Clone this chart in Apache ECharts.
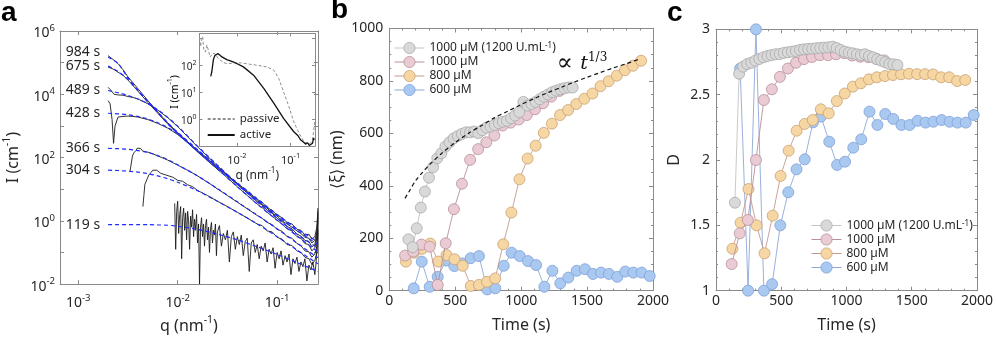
<!DOCTYPE html>
<html lang="en">
<head>
<meta charset="UTF-8">
<title>SAXS growth</title>
<script src="https://cdn.jsdelivr.net/npm/echarts@6/dist/echarts.min.js"></script>
<style>
    *{margin:0;padding:0;}
    html,body{width:100%;height:100%;overflow:hidden;background:#fff;}
    #chart{width:996px;height:339px;}
</style>
</head>
<body>
<div id="chart"></div>
<script>
// ---------- panel a : scattering curves, stored as log10 values ----------
const scanNames = ['984 s', '675 s', '489 s', '428 s', '366 s', '304 s', '119 s'];
const fitLogQ = [-2.7, -2.6, -2.5, -2.4, -2.3, -2.2, -2.1, -2.0, -1.8, -1.6, -1.4, -1.2, -1.0, -0.8, -0.59];
const fit984 = [5.18, 4.97, 4.52, 4.12, 3.78, 3.44, 3.1, 2.8, 2.25, 1.72, 1.2, 0.7, 0.2, -0.25, -0.66];
const fit675 = [4.89, 4.72, 4.47, 4.12, 3.77, 3.42, 3.07, 2.76, 2.21, 1.68, 1.16, 0.66, 0.16, -0.3, -0.75];
const fit489 = [4.12, 4.05, 3.96, 3.85, 3.71, 3.51, 3.27, 2.99, 2.36, 1.76, 1.16, 0.6, 0.08, -0.42, -0.86];
const fit428 = [3.40, 3.38, 3.35, 3.30, 3.22, 3.1, 2.95, 2.75, 2.2, 1.64, 1.08, 0.53, 0.02, -0.48, -0.98];
const fit366 = [2.29, 2.28, 2.26, 2.22, 2.16, 2.06, 1.93, 1.77, 1.42, 1.02, 0.6, 0.18, -0.25, -0.7, -1.17];
const fit304 = [1.60, 1.59, 1.57, 1.54, 1.49, 1.42, 1.33, 1.22, 0.95, 0.62, 0.27, -0.1, -0.5, -0.92, -1.36];
const fit119 = [-0.12, -0.12, -0.12, -0.12, -0.12, -0.13, -0.14, -0.17, -0.27, -0.42, -0.6, -0.82, -1.06, -1.32, -1.6];

// measured curves: [log10 q, log10 I]
const d984 = [[-2.7,5.22],[-2.65,5.1],[-2.6,4.97],[-2.55,4.78],[-2.5,4.55],[-2.4,4.18],[-2.3,3.8],[-2.2,3.44],[-2.1,3.1],[-2.0,2.79],[-1.9,2.5],[-1.8,2.23],[-1.7,1.97],[-1.6,1.7],[-1.5,1.44],[-1.4,1.19],[-1.3,0.94],[-1.2,0.68],[-1.15,0.58],[-1.1,0.42],[-1.05,0.33],[-1.0,0.18],[-0.95,0.1],[-0.9,-0.05],[-0.85,-0.1],[-0.8,-0.27],[-0.76,-0.3],[-0.72,-0.45],[-0.68,-0.42],[-0.65,-0.58],[-0.62,-0.5],[-0.6,-0.2],[-0.59,0.3]];
const d675 = [[-2.7,4.86],[-2.65,4.8],[-2.6,4.7],[-2.55,4.6],[-2.5,4.45],[-2.4,4.1],[-2.3,3.74],[-2.2,3.4],[-2.1,3.06],[-2.0,2.76],[-1.9,2.48],[-1.8,2.2],[-1.7,1.94],[-1.6,1.67],[-1.5,1.41],[-1.4,1.15],[-1.3,0.9],[-1.2,0.64],[-1.15,0.52],[-1.1,0.4],[-1.05,0.25],[-1.0,0.15],[-0.95,0.0],[-0.9,-0.1],[-0.85,-0.2],[-0.8,-0.32],[-0.76,-0.4],[-0.72,-0.52],[-0.68,-0.55],[-0.65,-0.7],[-0.62,-0.62],[-0.6,-0.35],[-0.59,0.2]];
const d489 = [[-2.7,4.22],[-2.67,4.12],[-2.64,4.0],[-2.6,3.98],[-2.55,3.97],[-2.5,3.93],[-2.45,3.9],[-2.4,3.85],[-2.3,3.7],[-2.2,3.5],[-2.1,3.26],[-2.0,2.98],[-1.9,2.66],[-1.8,2.34],[-1.7,2.04],[-1.6,1.74],[-1.5,1.45],[-1.4,1.16],[-1.3,0.88],[-1.2,0.6],[-1.15,0.5],[-1.1,0.34],[-1.05,0.24],[-1.0,0.08],[-0.95,-0.02],[-0.9,-0.18],[-0.85,-0.25],[-0.8,-0.42],[-0.76,-0.48],[-0.72,-0.62],[-0.68,-0.65],[-0.65,-0.82],[-0.62,-0.75],[-0.6,-0.45],[-0.59,0.1]];
const d428 = [[-2.7,3.8],[-2.68,3.7],[-2.66,3.2],[-2.645,2.45],[-2.63,3.0],[-2.6,3.28],[-2.55,3.3],[-2.5,3.31],[-2.45,3.3],[-2.4,3.28],[-2.3,3.2],[-2.2,3.08],[-2.1,2.93],[-2.0,2.73],[-1.9,2.47],[-1.8,2.18],[-1.7,1.9],[-1.6,1.63],[-1.5,1.36],[-1.4,1.08],[-1.3,0.8],[-1.2,0.53],[-1.15,0.42],[-1.1,0.27],[-1.05,0.15],[-1.0,0.02],[-0.95,-0.1],[-0.9,-0.25],[-0.85,-0.32],[-0.8,-0.5],[-0.76,-0.55],[-0.72,-0.72],[-0.68,-0.75],[-0.65,-0.95],[-0.62,-0.85],[-0.6,-0.55],[-0.59,0.0]];
const d366 = [[-2.48,1.55],[-2.47,1.6],[-2.455,2.05],[-2.44,2.15],[-2.42,2.22],[-2.405,2.3],[-2.39,2.25],[-2.37,2.28],[-2.35,2.2],[-2.33,2.24],[-2.3,2.17],[-2.25,2.12],[-2.2,2.05],[-2.15,1.99],[-2.1,1.92],[-2.0,1.76],[-1.9,1.6],[-1.8,1.42],[-1.7,1.22],[-1.6,1.01],[-1.5,0.8],[-1.4,0.59],[-1.3,0.38],[-1.2,0.17],[-1.15,0.08],[-1.1,-0.05],[-1.05,-0.12],[-1.0,-0.27],[-0.95,-0.33],[-0.9,-0.5],[-0.85,-0.55],[-0.8,-0.72],[-0.76,-0.78],[-0.72,-0.95],[-0.68,-0.98],[-0.65,-1.15],[-0.62,-1.05],[-0.6,-0.8],[-0.59,-0.3]];
const d304 = [[-2.35,0.45],[-2.34,0.8],[-2.33,1.15],[-2.32,1.2],[-2.31,1.3],[-2.29,1.45],[-2.27,1.52],[-2.25,1.6],[-2.23,1.66],[-2.21,1.6],[-2.19,1.55],[-2.17,1.5],[-2.15,1.52],[-2.12,1.45],[-2.1,1.43],[-2.05,1.38],[-2.0,1.28],[-1.95,1.25],[-1.9,1.14],[-1.85,1.08],[-1.8,0.96],[-1.7,0.8],[-1.6,0.62],[-1.5,0.45],[-1.4,0.27],[-1.3,0.09],[-1.2,-0.1],[-1.15,-0.15],[-1.1,-0.32],[-1.05,-0.35],[-1.0,-0.52],[-0.95,-0.58],[-0.9,-0.75],[-0.85,-0.78],[-0.8,-0.95],[-0.76,-1.0],[-0.72,-1.15],[-0.68,-1.2],[-0.65,-1.38],[-0.62,-1.25],[-0.6,-1.0],[-0.59,-0.4]];
const d119 = [[-2.03,0.55],[-2.02,-0.9],[-2.01,0.3],[-2.0,0.62],[-1.99,-0.4],[-1.98,0.2],[-1.97,0.45],[-1.96,-1.2],[-1.95,0.1],[-1.94,0.4],[-1.93,-0.3],[-1.92,0.25],[-1.91,-0.6],[-1.9,0.3],[-1.89,0.0],[-1.88,-0.9],[-1.87,0.15],[-1.86,-0.2],[-1.85,0.35],[-1.84,-0.5],[-1.83,0.05],[-1.82,-0.3],[-1.81,0.2],[-1.8,-0.7],[-1.79,-0.1],[-1.78,-2.0],[-1.77,-0.2],[-1.76,0.1],[-1.75,-0.5],[-1.74,-0.1],[-1.73,-0.8],[-1.72,-0.15],[-1.71,0.05],[-1.7,-0.6],[-1.69,-0.2],[-1.68,-1.0],[-1.67,-0.25],[-1.66,-0.05],[-1.65,-0.7],[-1.64,-0.3],[-1.63,-0.45],[-1.62,-0.1],[-1.61,-1.1],[-1.6,-0.35],[-1.58,-0.15],[-1.56,-0.8],[-1.54,-0.4],[-1.52,-0.6],[-1.5,-0.3],[-1.48,-1.3],[-1.46,-0.5],[-1.44,-0.35],[-1.42,-0.9],[-1.4,-0.5],[-1.38,-0.75],[-1.36,-0.45],[-1.34,-1.1],[-1.32,-0.65],[-1.3,-0.55],[-1.28,-1.6],[-1.26,-0.7],[-1.24,-0.6],[-1.22,-1.0],[-1.2,-0.75],[-1.18,-1.2],[-1.16,-0.8],[-1.14,-0.95],[-1.12,-0.7],[-1.1,-1.3],[-1.08,-0.9],[-1.06,-1.05],[-1.04,-0.85],[-1.02,-1.5],[-1.0,-1.0],[-0.98,-1.2],[-0.96,-0.95],[-0.94,-1.4],[-0.92,-1.1],[-0.9,-1.3],[-0.88,-1.05],[-0.86,-1.7],[-0.84,-1.2],[-0.82,-1.35],[-0.8,-1.15],[-0.78,-1.6],[-0.76,-1.3],[-0.74,-1.45],[-0.72,-1.2],[-0.7,-1.9],[-0.68,-1.4],[-0.66,-1.55],[-0.64,-1.3],[-0.62,-1.7],[-0.61,-1.4],[-0.6,-1.0],[-0.595,-0.6],[-0.59,0.4]];

// inset: passive vs active
const passive = [[-2.7,3.05],[-2.68,2.7],[-2.66,2.95],[-2.64,3.07],[-2.62,2.6],[-2.59,2.49],[-2.56,2.75],[-2.53,2.68],[-2.5,2.31],[-2.45,2.45],[-2.41,2.43],[-2.35,2.25],[-2.31,2.19],[-2.25,2.1],[-2.19,2.06],[-2.05,2.08],[-1.94,2.09],[-1.8,2.05],[-1.62,2.0],[-1.44,1.94],[-1.31,1.81],[-1.22,1.51],[-1.13,1.01],[-1.03,0.46],[-0.94,-0.1],[-0.84,-0.53],[-0.75,-0.84],[-0.66,-0.93],[-0.62,-0.88],[-0.59,-0.78],[-0.56,-0.3],[-0.55,-0.04]];
const active = [[-2.49,1.59],[-2.47,1.75],[-2.44,2.21],[-2.41,2.37],[-2.38,2.3],[-2.35,2.43],[-2.28,2.31],[-2.19,2.21],[-2.06,2.12],[-1.88,1.94],[-1.69,1.63],[-1.5,1.14],[-1.31,0.58],[-1.13,0.03],[-0.94,-0.47],[-0.86,-0.62],[-0.81,-0.78],[-0.76,-0.85],[-0.72,-0.93],[-0.68,-0.88],[-0.65,-0.98],[-0.62,-0.96],[-0.59,-0.9],[-0.57,-0.7],[-0.56,-0.78]];

// ---------- panels b and c ----------
const tGray = [145,177,208,239,270,301,332,364,395,426,457,488,519,550,581,612,644,675,706,737,768,799,830,861,893,924,955,986,1017,1048,1079,1110,1141,1172,1203,1235,1266,1297,1328,1359,1390];
const xiGray = [196,166,238,317,378,431,471,505,524,550,566,581,590,598,604,604,607,601,612,622,626,632,639,644,648,658,668,681,720,706,712,720,730,740,748,757,763,768,772,775,775];
const dGray = [1.673,2.66,2.714,2.734,2.744,2.76,2.773,2.786,2.796,2.803,2.809,2.811,2.819,2.824,2.829,2.834,2.842,2.847,2.85,2.852,2.855,2.857,2.86,2.862,2.867,2.857,2.842,2.829,2.821,2.816,2.809,2.803,2.809,2.796,2.786,2.771,2.76,2.748,2.734,2.732,2.727];

const tPink = [120,182,244,306,367,428,490,551,613,674,736,797,859,920,982,1043,1105,1166,1228,1290];
const xiPink = [134,149,176,168,22,181,311,408,499,540,566,592,630,641,653,670,692,715,740,762];
const dPink = [1.204,1.439,1.541,2.0,2.459,2.541,2.636,2.70,2.744,2.772,2.788,2.802,2.802,2.809,2.818,2.799,2.79,2.787,2.774,2.762];

const tOrange = [126,188,249,311,372,434,495,557,618,680,741,803,864,926,987,1049,1110,1172,1233,1295,1356,1418,1479,1541,1602,1664,1725,1787,1848,1910];
const xiOrange = [111,145,160,180,111,136,120,95,18,22,34,47,177,298,425,504,553,602,637,670,689,712,732,752,780,799,820,841,858,877];
const dOrange = [1.321,1.52,1.778,1.5,1.286,1.574,1.878,2.071,2.224,2.276,2.306,2.388,2.357,2.451,2.509,2.561,2.587,2.617,2.633,2.642,2.65,2.656,2.66,2.657,2.657,2.655,2.633,2.633,2.604,2.612];

const tBlue = [185,246,306,367,430,493,554,617,680,743,804,868,928,989,1052,1113,1176,1237,1297,1358,1421,1484,1545,1606,1666,1729,1790,1851,1914,1975];
const xiBlue = [9,111,15,53,115,94,104,124,132,5,9,95,145,132,113,98,15,76,28,50,76,82,64,69,64,53,73,69,69,56];
const dBlue = [2.70,1.0,3.0,1.0,1.05,1.5,1.753,1.929,2.005,2.288,2.332,2.14,1.962,1.987,2.094,2.158,2.37,2.268,2.352,2.314,2.268,2.268,2.30,2.286,2.293,2.306,2.293,2.286,2.286,2.344];

const tFit = [119,150,200,250,300,400,500,600,700,800,900,1000,1100,1200,1300,1400,1500,1600,1700,1800,1900];
const xiFit = [352,378,420,450,478,525,565,600,630,660,685,710,733,755,775,795,814,832,850,866,884];

const seriesNames = ['1000 µM (1200 U.mL-1)', '1000 µM', '800 µM', '600 µM'];

// ---------- styling ----------
const FONT = 'Noto Sans';
const INK = '#262626';
const FRAME = '#8a8a8a';
const pow10 = v => Math.pow(10, v);
const toPts = arr => arr.map(p => [pow10(p[0]), pow10(p[1])]);

function supRich(big, small) {
    return {
        b: {fontFamily: FONT, fontSize: big, lineHeight: big + 6, color: INK},
        t: {fontFamily: FONT, fontSize: big, lineHeight: big + 6, color: INK},
        s: {fontFamily: FONT, fontSize: small, lineHeight: small + 1, verticalAlign: 'top', color: INK}
    };
}
function decadeLabel(test) {
    return v => {
        const e = Math.log10(v), r = Math.round(e);
        if (Math.abs(e - r) > 1e-6 || !test(r)) return '';
        return '{b|10}{s|' + r + '}';
    };
}
function frame(gridIndex, position, extra) {
    return Object.assign({
        gridIndex: gridIndex,
        position: position,
        axisLine: {show: true, onZero: false, lineStyle: {color: FRAME, width: 1}},
        axisTick: {show: true, inside: true, length: 4, lineStyle: {color: FRAME}},
        splitLine: {show: false},
        axisLabel: {show: false}
    }, extra);
}
const numLabel = (margin) => ({show: true, color: INK, fontFamily: FONT, fontSize: 14, margin: margin,
    formatter: v => String(v)});
const nameStyle = {color: INK, fontFamily: FONT, fontSize: 16};

// panel a axes
const qMin = 6.55e-4, qMax = 0.258;
const qInMin = 0.002, qInMax = 0.286;
const aX = {type: 'log', min: qMin, max: qMax};
const aY = {type: 'log', min: 0.01, max: 1e6};
const inX = {type: 'log', min: qInMin, max: qInMax};
// inset intensity axis works on the stored decades directly
const inY = {type: 'value', min: -1, max: 3.18, interval: 1};
const tX = {type: 'value', min: 0, max: 2000, interval: 500,
    minorTick: {show: true, splitNumber: 5, length: 2, lineStyle: {color: FRAME}}};
const smallTick = {show: true, inside: true, length: 3, lineStyle: {color: FRAME}};

const xAxes = [
    frame(0, 'bottom', Object.assign({}, aX, {
        axisLabel: {show: true, interval: 0, margin: 9, formatter: decadeLabel(() => true), rich: supRich(14, 9.5)},
        name: '{t|q (nm}{s|-1}{t|)}', nameLocation: 'middle', nameGap: 30,
        nameTextStyle: {rich: supRich(16, 10.5)}
    })),
    frame(0, 'top', aX),
    frame(1, 'bottom', Object.assign({}, inX, {
        axisTick: smallTick,
        axisLabel: {show: true, interval: 0, margin: 6, formatter: decadeLabel(() => true), rich: supRich(11, 7.5)},
        name: '{t|q (nm}{s|-1}{t|)}', nameLocation: 'middle', nameGap: 20,
        nameTextStyle: {rich: supRich(12, 8)}
    })),
    frame(1, 'top', Object.assign({}, inX, {axisTick: smallTick})),
    frame(2, 'bottom', Object.assign({}, tX, {
        axisLabel: numLabel(3), name: 'Time (s)', nameLocation: 'middle', nameGap: 27, nameTextStyle: nameStyle
    })),
    frame(2, 'top', tX),
    frame(3, 'bottom', Object.assign({}, tX, {
        axisLabel: numLabel(3), name: 'Time (s)', nameLocation: 'middle', nameGap: 27, nameTextStyle: nameStyle
    })),
    frame(3, 'top', tX)
];

const xiY = {type: 'value', min: 0, max: 1000, interval: 200,
    minorTick: {show: true, splitNumber: 4, length: 2, lineStyle: {color: FRAME}}};
const dY = {type: 'value', min: 1, max: 3, interval: 0.5,
    minorTick: {show: true, splitNumber: 5, length: 2, lineStyle: {color: FRAME}}};

const yAxes = [
    frame(0, 'left', Object.assign({}, aY, {
        axisLabel: {show: true, interval: 0, margin: 5, padding: [5, 0, 0, 0], formatter: decadeLabel(r => r % 2 === 0), rich: supRich(14, 9.5)},
        name: '{t|I (cm}{s|-1}{t|)}', nameLocation: 'middle', nameGap: 36, nameRotate: 90,
        nameTextStyle: {rich: supRich(16, 10.5)}
    })),
    frame(0, 'right', aY),
    frame(1, 'left', Object.assign({}, inY, {
        axisTick: smallTick,
        axisLabel: {show: true, interval: 0, hideOverlap: false, margin: 3, padding: [4, 0, 0, 0],
            formatter: v => (Number.isInteger(v) && v >= 0 && v <= 2) ? '{b|10}{s|' + v + '}' : '',
            rich: supRich(10, 7)}
    })),
    frame(1, 'right', Object.assign({}, inY, {axisTick: smallTick})),
    frame(2, 'left', Object.assign({}, xiY, {
        axisLabel: numLabel(6), name: '⟨ξ⟩ (nm)', nameLocation: 'middle', nameGap: 44, nameRotate: 90, nameTextStyle: nameStyle
    })),
    frame(2, 'right', xiY),
    frame(3, 'left', Object.assign({}, dY, {
        axisLabel: numLabel(6), name: 'D', nameLocation: 'middle', nameGap: 34, nameRotate: 90, nameTextStyle: nameStyle
    })),
    frame(3, 'right', dY)
];

// ---------- series ----------
const series = [];
const fits = [fit984, fit675, fit489, fit428, fit366, fit304, fit119];
const scans = [d984, d675, d489, d428, d366, d304, d119];

scans.forEach((d, i) => {
    series.push({
        name: 'scan ' + scanNames[i], type: 'line', xAxisIndex: 0, yAxisIndex: 0,
        data: toPts(d), showSymbol: false, symbol: 'none',
        lineStyle: {color: '#1c1c1c', width: 0.9}, z: 2
    });
});
fits.forEach((f, i) => {
    const data = fitLogQ.map((e, k) => [pow10(e), pow10(f[k])]);
    data[0] = {
        value: data[0],
        label: {show: true, position: 'left', distance: 8, offset: [0, i === 0 ? -5 : 0],
            formatter: scanNames[i], color: INK, fontFamily: FONT, fontSize: 14}
    };
    series.push({
        name: 'fit ' + scanNames[i], type: 'line', xAxisIndex: 0, yAxisIndex: 0,
        data: data, smooth: 0.3, symbol: 'circle', symbolSize: 0, showSymbol: true,
        label: {show: false},
        lineStyle: {color: '#1f2bff', width: 1.2, type: [4, 3]}, z: 3
    });
});

const insetPts = arr => arr.map(p => [pow10(p[0]), p[1]]);
series.push({
    name: 'passive', type: 'line', xAxisIndex: 2, yAxisIndex: 2, data: insetPts(passive),
    symbol: 'circle', symbolSize: 0, lineStyle: {color: '#8f8f8f', width: 1, type: [3, 2]}, z: 3
});
series.push({
    name: 'active', type: 'line', xAxisIndex: 2, yAxisIndex: 2, data: insetPts(active),
    symbol: 'circle', symbolSize: 0, lineStyle: {color: '#111', width: 1.3}, z: 4
});

const look = [
    {fill: '#d9d9d9', edge: '#a9a9a9', line: '#c4c4c4'},
    {fill: '#eacbd3', edge: '#b8909b', line: '#b8909b'},
    {fill: '#f6d6a2', edge: '#c9a273', line: '#c59a8f'},
    {fill: '#aac9f1', edge: '#7e9fd8', line: '#8ea7d8'}
];
const tSets = [tGray, tPink, tOrange, tBlue];
const xiSets = [xiGray, xiPink, xiOrange, xiBlue];
const dSets = [dGray, dPink, dOrange, dBlue];

// draw blue first so grey ends on top
[3, 2, 1, 0].forEach(k => {
    const style = {
        type: 'line', name: seriesNames[k], symbol: 'circle', symbolSize: 11,
        itemStyle: {color: look[k].fill, borderColor: look[k].edge, borderWidth: 0.8},
        lineStyle: {color: look[k].line, width: 0.9}, z: 3 + (3 - k)
    };
    series.push(Object.assign({}, style, {
        xAxisIndex: 4, yAxisIndex: 4, data: tSets[k].map((t, i) => [t, xiSets[k][i]])
    }));
    series.push(Object.assign({}, style, {
        xAxisIndex: 6, yAxisIndex: 6, data: tSets[k].map((t, i) => [t, dSets[k][i]])
    }));
});

const fitData = tFit.map((t, i) => [t, xiFit[i]]);
const lab = tFit.indexOf(1400);
fitData[lab] = {
    value: fitData[lab],
    label: {
        show: true, position: 'top', distance: 6, offset: [8, 0],
        formatter: '{p|∝ }{t|t}{s|1/3}',
        rich: {
            p: {fontFamily: 'DejaVu Serif', fontSize: 24, lineHeight: 24, color: '#111'},
            t: {fontFamily: 'DejaVu Serif', fontStyle: 'italic', fontSize: 19, lineHeight: 24, color: '#111'},
            s: {fontFamily: 'DejaVu Serif', fontSize: 12, lineHeight: 13, verticalAlign: 'top', color: '#111'}
        }
    }
};
series.push({
    name: 'power law', type: 'line', xAxisIndex: 4, yAxisIndex: 4, data: fitData,
    smooth: 0.3, symbol: 'circle', symbolSize: 0, showSymbol: true, label: {show: false},
    lineStyle: {color: '#111', width: 1.2, type: [4, 3]}, z: 10
});

const legendText = {
    color: INK, fontFamily: FONT, fontSize: 12,
    rich: {t: {fontFamily: FONT, fontSize: 12, color: INK}, s: {fontFamily: FONT, fontSize: 8, lineHeight: 9, verticalAlign: 'top', color: INK}}
};
const legendFmt = n => n.indexOf('U.mL') > 0 ? '{t|1000 µM (1200 U.mL}{s|-1}{t|)}' : '{t|' + n + '}';
const legendItem = {borderWidth: 0.8};

const option = {
    animation: false,
    backgroundColor: '#fff',
    grid: [
        {left: 60, top: 31, width: 258, height: 258},
        {left: 199.5, top: 33.5, width: 115.5, height: 112.5},
        {left: 389.3, top: 28.5, width: 263.7, height: 262.2},
        {left: 716, top: 29.3, width: 264, height: 261.4}
    ],
    xAxis: xAxes,
    yAxis: yAxes,
    legend: [
        {data: ['passive', 'active'], orient: 'vertical', left: 206.7, top: 113, padding: 0,
            itemWidth: 27, itemHeight: 10, itemGap: 4, selectedMode: false,
            itemStyle: {color: 'rgba(0,0,0,0)', borderWidth: 0, opacity: 0},
            textStyle: {color: INK, fontFamily: FONT, fontSize: 11.5}},
        {data: seriesNames, orient: 'vertical', left: 394, top: 42, padding: 0,
            itemWidth: 30, itemHeight: 14, itemGap: 2, selectedMode: false,
            itemStyle: legendItem, lineStyle: {width: 1},
            formatter: legendFmt, textStyle: legendText},
        {data: seriesNames, orient: 'vertical', left: 811, top: 219.5, padding: 0,
            itemWidth: 30, itemHeight: 14, itemGap: 2, selectedMode: false,
            itemStyle: legendItem, lineStyle: {width: 1},
            formatter: legendFmt, textStyle: legendText}
    ],
    graphic: [
        {type: 'text', left: 1, top: -1, style: {text: 'a', font: 'bold 28px "Liberation Sans"', fill: '#000'}},
        {type: 'text', left: 331, top: -4, style: {text: 'b', font: 'bold 28px "Liberation Sans"', fill: '#000'}},
        {type: 'text', left: 667, top: -1, style: {text: 'c', font: 'bold 28px "Liberation Sans"', fill: '#000'}},
        // inset intensity title
        {type: 'text', x: 175, y: 92, rotation: Math.PI / 2, z: 5,
            style: {text: '{t|I (cm}{s|-1}{t|)}', align: 'center', verticalAlign: 'middle', rich: supRich(10.5, 7)}}
    ],
    series: series
};

const chart = echarts.init(document.getElementById('chart'), null, {renderer: 'canvas'});
chart.setOption(option);
</script>
</body>
</html>
